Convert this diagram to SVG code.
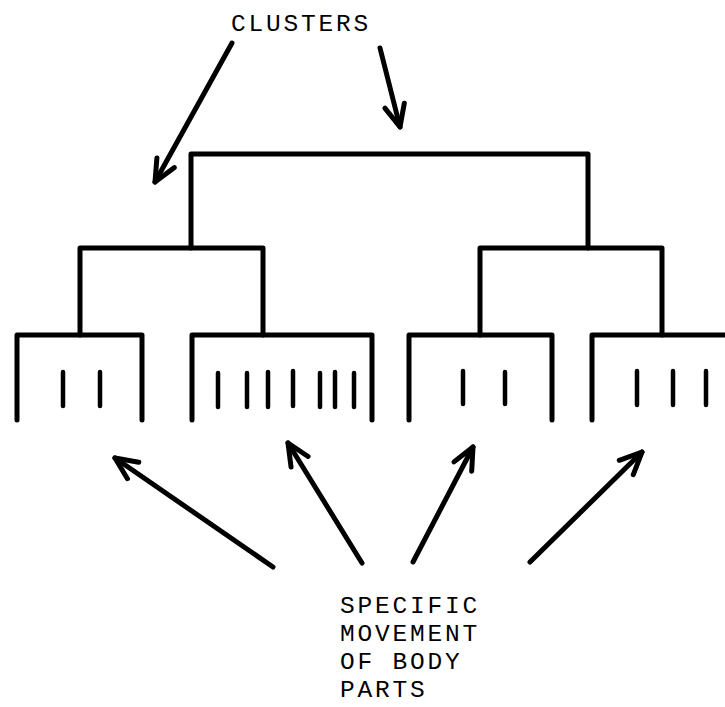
<svg xmlns="http://www.w3.org/2000/svg" width="725" height="707" viewBox="0 0 725 707">
<style>
.br{fill:none;stroke:#000;stroke-width:5;stroke-linejoin:round;stroke-linecap:round}
.tk{fill:none;stroke:#000;stroke-width:4.5;stroke-linecap:round}
.ar{fill:none;stroke:#000;stroke-width:5;stroke-linecap:round}
.lb{font-family:"Liberation Mono","Courier New",monospace;font-size:24.5px;letter-spacing:2.8px;fill:#000}
</style>
<defs>
<marker id="ah" viewBox="-30 -15 35 30" refX="0" refY="0" markerWidth="35" markerHeight="30" markerUnits="userSpaceOnUse" orient="auto" overflow="visible">
<path d="M-22,-10 L0,0 L-22,10" fill="none" stroke="#000" stroke-width="5" stroke-linecap="round" stroke-linejoin="round"/>
</marker>
</defs>
<rect width="725" height="707" fill="#fff"/>
<g id="label-clusters"><text class="lb" x="231" y="31">CLUSTERS</text></g>
<g id="cluster-top"><path class="br" d="M191,248 V154 H588 V248"/></g>
<g id="cluster-left"><path class="br" d="M80,335 V248 H263 V335"/></g>
<g id="cluster-right"><path class="br" d="M480,335 V248 H662 V335"/></g>
<g id="leaf-1">
<path class="br" d="M17,420 V335 H142 V420"/>
<path class="tk" d="M63,372 V406 M100,372 V406"/>
</g>
<g id="leaf-2">
<path class="br" d="M192,420 V335 H372 V420"/>
<path class="tk" d="M218,373 V407 M247,373 V407 M268,372 V407 M293,371 V406 M320,373 V407 M335,372 V407 M354,373 V407"/>
</g>
<g id="leaf-3">
<path class="br" d="M409,420 V335 H552 V420"/>
<path class="tk" d="M463,371 V404 M505,372 V404"/>
</g>
<g id="leaf-4">
<path class="br" d="M592,420 V335 H730"/>
<path class="tk" d="M637,371 V405 M673,371 V405 M706,371 V405"/>
</g>
<g id="label-specific">
<text class="lb" x="340" y="613">SPECIFIC</text>
<text class="lb" x="340" y="641">MOVEMENT</text>
<text class="lb" x="340" y="669">OF BODY</text>
<text class="lb" x="340" y="697">PARTS</text>
</g>
<g id="connectors">
<line class="ar" x1="232" y1="43" x2="155" y2="182" marker-end="url(#ah)"/>
<line class="ar" x1="380" y1="48" x2="400" y2="127" marker-end="url(#ah)"/>
<line class="ar" x1="273" y1="567" x2="115" y2="458" marker-end="url(#ah)"/>
<line class="ar" x1="362" y1="563" x2="288" y2="443" marker-end="url(#ah)"/>
<line class="ar" x1="413" y1="562" x2="473" y2="447" marker-end="url(#ah)"/>
<line class="ar" x1="530" y1="562" x2="642" y2="452" marker-end="url(#ah)"/>
</g>
</svg>
